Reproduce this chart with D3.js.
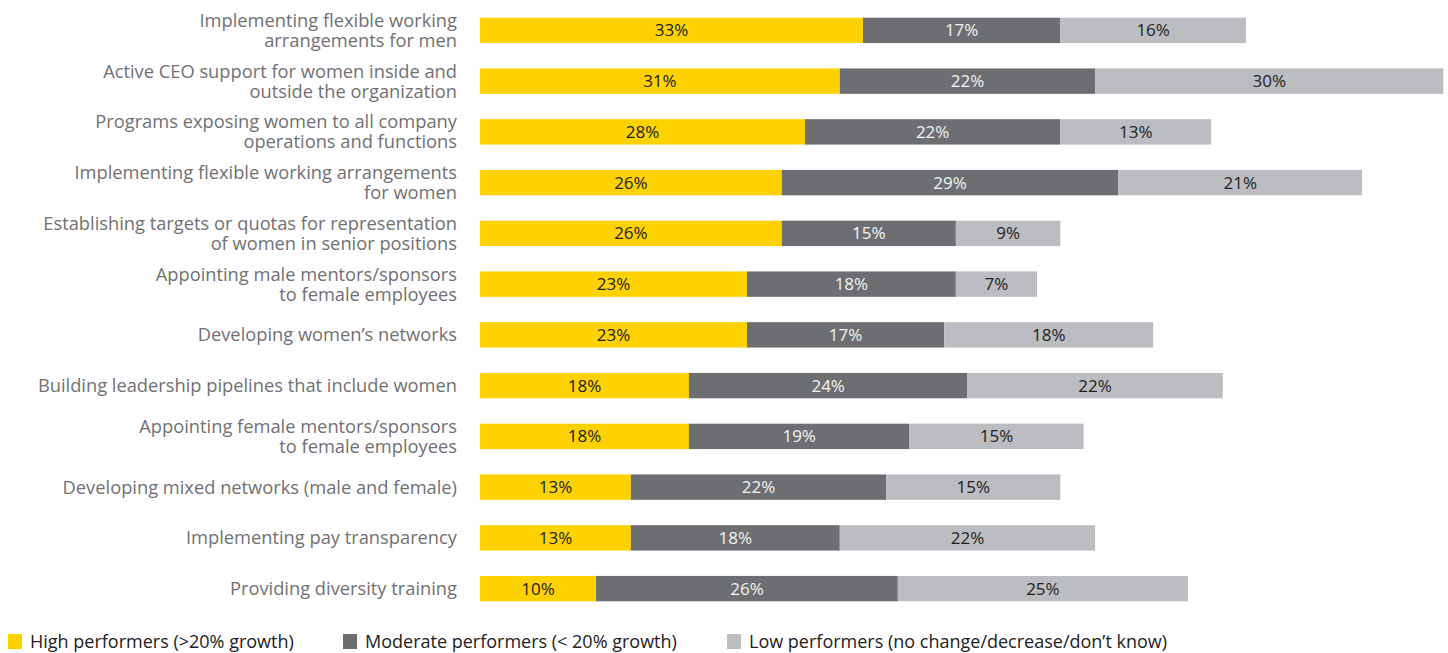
<!DOCTYPE html>
<html>
<head>
<meta charset="utf-8">
<script src="https://cdn.jsdelivr.net/npm/d3@7"></script>
<style>
  body { margin: 0; background: #fff; }
  svg { display: block; font-family: "Open Sans", sans-serif; }
</style>
</head>
<body>
<div id="chart"></div>
<script>
// survey rows, top to bottom
var categories = [
  ["Implementing flexible working", "arrangements for men"],
  ["Active CEO support for women inside and", "outside the organization"],
  ["Programs exposing women to all company", "operations and functions"],
  ["Implementing flexible working arrangements", "for women"],
  ["Establishing targets or quotas for representation", "of women in senior positions"],
  ["Appointing male mentors/sponsors", "to female employees"],
  ["Developing women\u2019s networks"],
  ["Building leadership pipelines that include women"],
  ["Appointing female mentors/sponsors", "to female employees"],
  ["Developing mixed networks (male and female)"],
  ["Implementing pay transparency"],
  ["Providing diversity training"]
];
var high = [33, 31, 28, 26, 26, 23, 23, 18, 18, 13, 13, 10];
var moderate = [17, 22, 22, 29, 15, 18, 17, 24, 19, 22, 18, 26];
var low = [16, 30, 13, 21, 9, 7, 18, 22, 15, 15, 22, 25];
var seriesNames = [
  "High performers (>20% growth)",
  "Moderate performers (< 20% growth)",
  "Low performers (no change/decrease/don\u2019t know)"
];

var width = 1448, height = 653;
var keys = ["high", "moderate", "low"];
var colors = ["#fdd200", "#6d6e71", "#bcbdc0"];
var textColors = ["#222", "#f4f4f4", "#222"];

var data = categories.map(function (c, i) {
  return { id: i, label: c, high: high[i], moderate: moderate[i], low: low[i] };
});

var svg = d3.select("#chart").append("svg")
  .attr("width", width)
  .attr("height", height);

var x = d3.scaleLinear().domain([0, 83]).range([480, 1443.3]);

var y = d3.scaleBand()
  .domain(data.map(function (d) { return d.id; }))
  .range([5, 614])
  .paddingInner(0.5)
  .paddingOuter(0.25);

var stack = d3.stack().keys(keys);
var series = stack(data);

var serie = svg.selectAll(".serie")
  .data(series)
  .enter().append("g")
  .attr("class", "serie")
  .attr("fill", function (d, i) { return colors[i]; });

serie.selectAll("rect")
  .data(function (d) { return d; })
  .enter().append("rect")
  .attr("x", function (d) { return x(d[0]); })
  .attr("y", function (d) { return y(d.data.id); })
  .attr("width", function (d) { return x(d[1]) - x(d[0]); })
  .attr("height", y.bandwidth());

serie.selectAll("text")
  .data(function (d, i) { return d.map(function (p) { p.si = i; return p; }); })
  .enter().append("text")
  .attr("x", function (d) { return (x(d[0]) + x(d[1])) / 2; })
  .attr("y", function (d) { return y(d.data.id) + y.bandwidth() / 2; })
  .attr("dy", "0.35em")
  .attr("text-anchor", "middle")
  .attr("font-size", 17)
  .attr("fill", function (d) { return textColors[d.si]; })
  .text(function (d) { return (d[1] - d[0]) + "%"; });

// category labels
var lab = svg.append("g").selectAll("text")
  .data(data)
  .enter().append("text")
  .attr("text-anchor", "end")
  .attr("font-size", 18.3)
  .attr("fill", "#717174")
  .attr("y", function (d) {
    return y(d.id) + y.bandwidth() / 2 - (d.label.length - 1) * 10;
  });

lab.selectAll("tspan")
  .data(function (d) { return d.label; })
  .enter().append("tspan")
  .attr("x", 457)
  .attr("dy", function (d, i) { return i == 0 ? "0.35em" : 20; })
  .text(function (d) { return d; });

// legend
var legendX = [8, 343, 727];
var leg = svg.append("g").selectAll("g")
  .data(seriesNames)
  .enter().append("g")
  .attr("transform", function (d, i) { return "translate(" + legendX[i] + ",634)"; });

leg.append("rect")
  .attr("width", 14)
  .attr("height", 15)
  .attr("fill", function (d, i) { return colors[i]; });

leg.append("text")
  .attr("x", 22)
  .attr("y", 7.5)
  .attr("dy", "0.35em")
  .attr("font-size", 18)
  .attr("fill", "#222")
  .text(function (d) { return d; });
</script>
</body>
</html>
